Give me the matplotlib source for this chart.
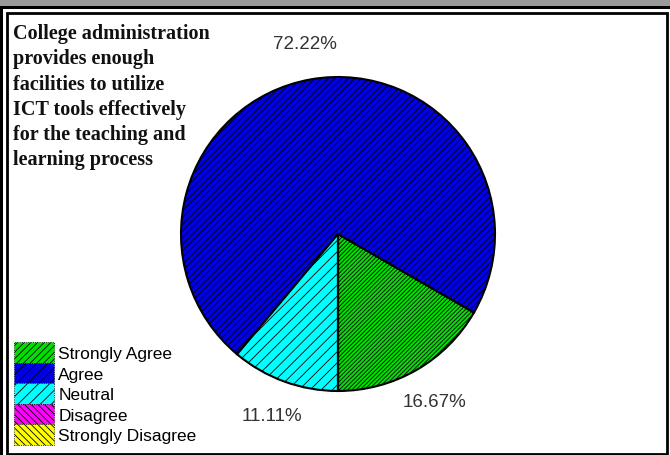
import matplotlib
matplotlib.use("Agg")
import matplotlib.pyplot as plt
from matplotlib.patches import Rectangle

# data
labels = ["Strongly Agree", "Agree", "Neutral", "Disagree", "Strongly Disagree"]
counts = [3, 13, 2, 0, 0]
colors = ["#00e000", "#0000e6", "#00ffff", "#ff00ff", "#ffff00"]
hatches = ["////////", "/////", "///", "\\\\\\\\\\", "\\\\\\\\\\"]
legend_hatches = ["/////", "///", "///", "\\\\\\\\\\", "\\\\\\\\\\"]
title = ("College administration\nprovides enough\nfacilities to utilize\n"
         "ICT tools effectively\nfor the teaching and\nlearning process")

plt.rcParams["hatch.color"] = "black"
plt.rcParams["hatch.linewidth"] = 0.6

W, H = 670, 456
fig = plt.figure(figsize=(W / 100, H / 100), dpi=100)
ax = fig.add_axes([0, 0, 1, 1])


def pct(p):
    return "%.2f%%" % p if p > 0 else ""


wedges, texts, autotexts = ax.pie(
    counts, colors=colors, startangle=270, counterclock=True,
    center=(338, H - 235), radius=157, autopct=pct, pctdistance=1.23,
    wedgeprops=dict(edgecolor="black", linewidth=1.5),
    textprops=dict(family="Liberation Sans", fontsize=13.5, color="#333333"))
for w, h in zip(wedges, hatches):
    w.set_hatch(h)

ax.set_xlim(0, W)
ax.set_ylim(0, H)
ax.set_aspect("auto")
ax.axis("off")

# window-ish frame
ax.add_patch(Rectangle((0, H - 7), W, 7, facecolor="#9a9a9a", edgecolor="none"))
ax.add_patch(Rectangle((0, H - 10), W, 3, facecolor="black", edgecolor="none"))
ax.add_patch(Rectangle((0, 0), 3, H - 7, facecolor="black", edgecolor="none"))
ax.add_patch(Rectangle((7, 1), 660, H - 15, facecolor="none", edgecolor="black", linewidth=2))

t = ax.text(13, H - 24, title, ha="left", va="top", family="Liberation Serif",
            fontweight="bold", fontsize=14.5, linespacing=1.35, color="#111111")

leg = ax.legend(wedges, labels, loc="lower left", bbox_to_anchor=(14 / W, 10 / H),
                frameon=False, prop=dict(family="Liberation Sans", size=12.5),
                handlelength=2.3, handleheight=1.45, handletextpad=0.25,
                labelspacing=0.0, borderpad=0, borderaxespad=0)
for h, hh in zip(leg.legend_handles, legend_hatches):
    h.set_hatch(hh)
    h.set_linewidth(0.6)
    h.set_linestyle(":")

fig.savefig("out.png", dpi=100)
